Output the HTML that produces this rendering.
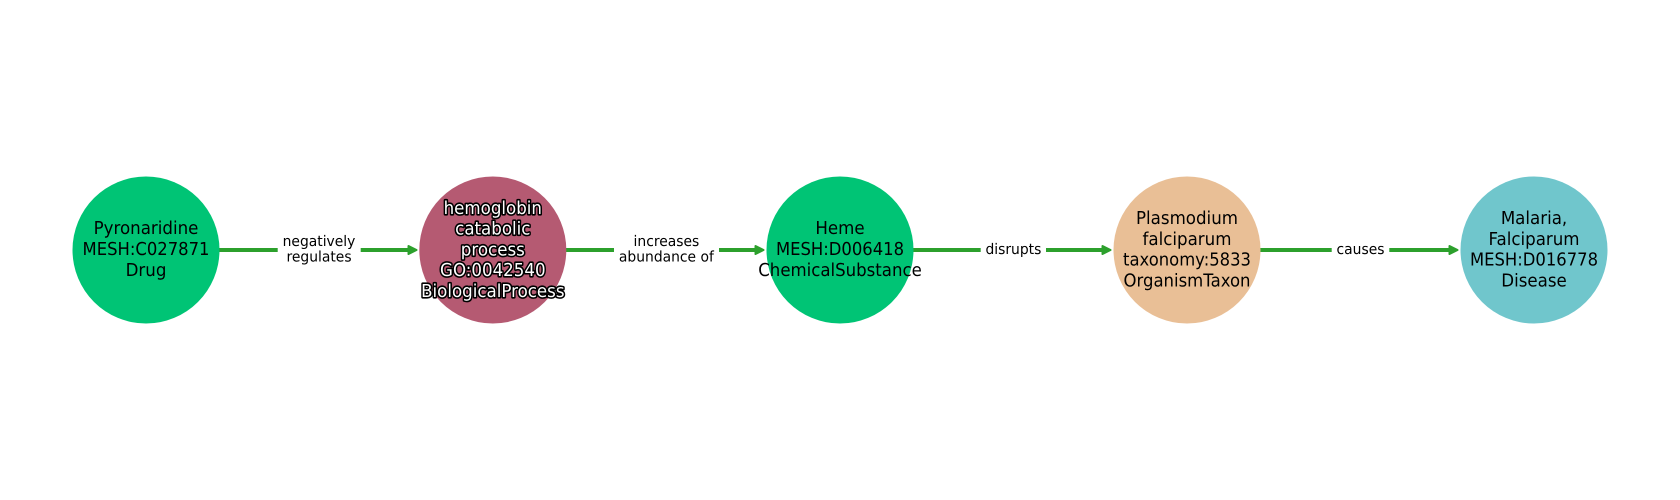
<!DOCTYPE html>
<html><head><meta charset="utf-8"><style>
html,body{margin:0;padding:0;background:#fff;width:1680px;height:500px;overflow:hidden}
svg{display:block}
text{font-family:"DejaVu Sans",sans-serif;text-anchor:middle;text-rendering:geometricPrecision}
.n{font-size:16.67px;fill:#000}
.e{font-size:13.89px;fill:#000}
.o{fill:#fff;stroke:#000;stroke-width:3px;paint-order:stroke;stroke-linejoin:round}
.l{stroke:#2ca02c;stroke-width:4;fill:none}
.a{fill:#2ca02c;stroke:#2ca02c;stroke-width:2;stroke-linejoin:round}
</style></head><body>
<svg width="1680" height="500" viewBox="0 0 1680 500" xmlns="http://www.w3.org/2000/svg">
<rect width="1680" height="500" fill="#fff"/>
<path class="l" d="M219 250H277.7M360.7 250H410"/>
<path class="a" d="M408.5 246L416.5 250L408.5 254Z"/>
<path class="l" d="M566 250H614M719 250H757"/>
<path class="a" d="M755.5 246L763.5 250L755.5 254Z"/>
<path class="l" d="M913 250H980.7M1046 250H1104"/>
<path class="a" d="M1102.5 246L1110.5 250L1102.5 254Z"/>
<path class="l" d="M1260 250H1331.7M1389.3 250H1451"/>
<path class="a" d="M1449.5 246L1457.5 250L1449.5 254Z"/>
<circle cx="146" cy="250" r="73.5" fill="#00c475"/>
<circle cx="492.8" cy="250" r="73.5" fill="#b55a72"/>
<circle cx="840" cy="250" r="73.5" fill="#00c475"/>
<circle cx="1187" cy="250" r="73.5" fill="#e9bf96"/>
<circle cx="1534" cy="250" r="73.5" fill="#70c6cc"/>
<text class="n" transform="translate(146 234) scale(1 1.07)">Pyronaridine</text>
<text class="n" transform="translate(146 255) scale(.985 1.07)">MESH:C027871</text>
<text class="n" transform="translate(146 275.8) scale(1 1.07)">Drug</text>
<text class="n o" transform="translate(492.8 214) scale(1 1.07)">hemoglobin</text>
<text class="n o" transform="translate(492.8 234.6) scale(1 1.07)">catabolic</text>
<text class="n o" transform="translate(492.8 255.4) scale(1 1.07)">process</text>
<text class="n o" transform="translate(492.8 276) scale(1 1.07)">GO:0042540</text>
<text class="n o" transform="translate(492.8 296.8) scale(1 1.07)">BiologicalProcess</text>
<text class="n" transform="translate(840 234) scale(1 1.07)">Heme</text>
<text class="n" transform="translate(840 255) scale(.985 1.07)">MESH:D006418</text>
<text class="n" transform="translate(840 275.8) scale(.995 1.07)">ChemicalSubstance</text>
<text class="n" transform="translate(1187 224) scale(1 1.07)">Plasmodium</text>
<text class="n" transform="translate(1187 245) scale(1 1.07)">falciparum</text>
<text class="n" transform="translate(1187 265.6) scale(.985 1.07)">taxonomy:5833</text>
<text class="n" transform="translate(1187 286.4) scale(.99 1.07)">OrganismTaxon</text>
<text class="n" transform="translate(1534 224) scale(1 1.07)">Malaria,</text>
<text class="n" transform="translate(1534 245) scale(1 1.07)">Falciparum</text>
<text class="n" transform="translate(1534 265.6) scale(.985 1.07)">MESH:D016778</text>
<text class="n" transform="translate(1534 286.4) scale(1 1.07)">Disease</text>
<text class="e" transform="translate(319 246) scale(1 1.05)">negatively</text>
<text class="e" transform="translate(319 261.5) scale(1 1.05)">regulates</text>
<text class="e" transform="translate(666.4 246) scale(1 1.05)">increases</text>
<text class="e" transform="translate(666.4 261.5) scale(1 1.05)">abundance of</text>
<text class="e" transform="translate(1013.4 254) scale(1 1.05)">disrupts</text>
<text class="e" transform="translate(1360.5 254) scale(1 1.05)">causes</text>
</svg>
</body></html>
